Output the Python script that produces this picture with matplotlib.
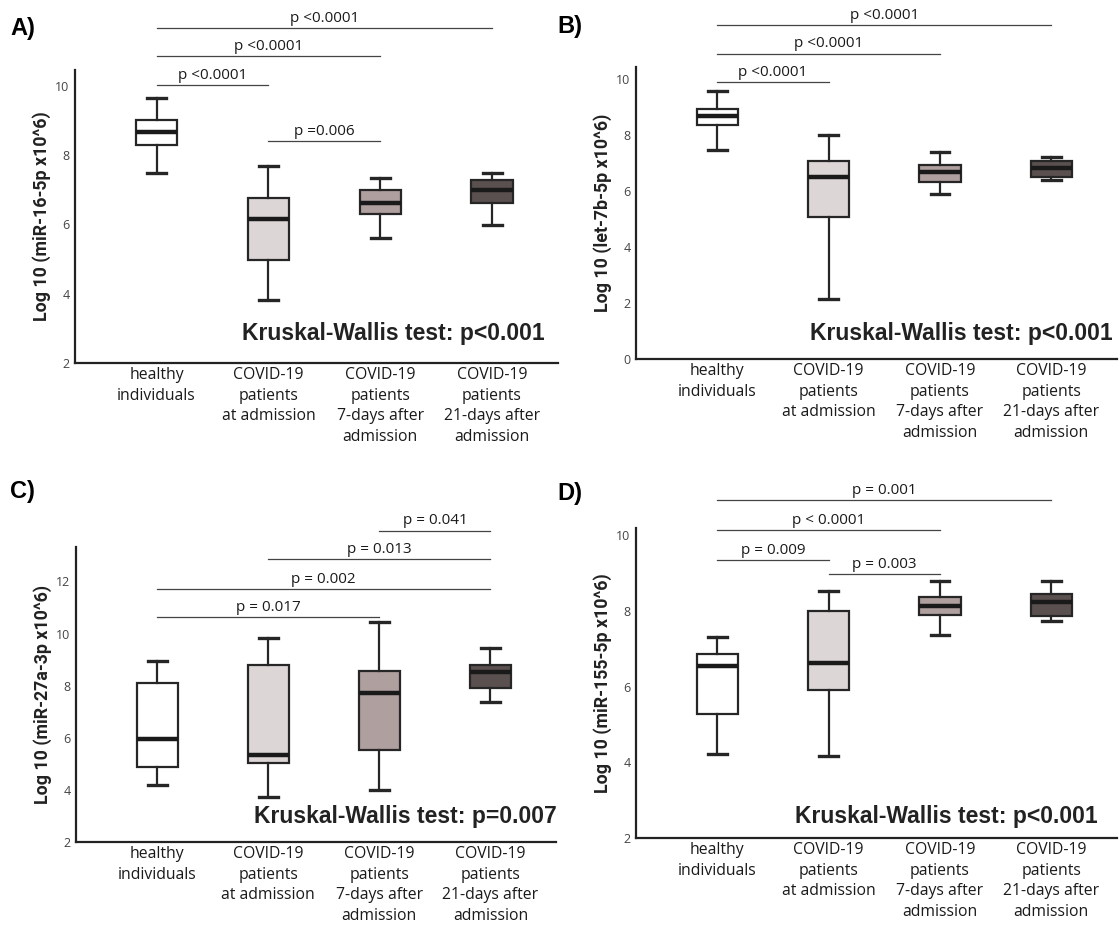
import matplotlib.pyplot as plt

# group names shown under every panel
groups = ['healthy\nindividuals',
          'COVID-19\npatients\nat admission',
          'COVID-19\npatients\n7-days after\nadmission',
          'COVID-19\npatients\n21-days after\nadmission']
fills = ['#ffffff', '#dcd6d7', '#b09f9f', '#5b5050']

# box statistics per panel: whisker low, Q1, median, Q3, whisker high
a_lo = [7.48, 3.83, 5.62, 5.98]
a_q1 = [8.29, 4.98, 6.29, 6.62]
a_med = [8.66, 6.17, 6.63, 7.00]
a_q3 = [9.02, 6.77, 7.00, 7.29]
a_hi = [9.66, 7.69, 7.35, 7.48]

b_lo = [7.45, 2.14, 5.90, 6.37]
b_q1 = [8.33, 5.08, 6.31, 6.50]
b_med = [8.66, 6.50, 6.67, 6.80]
b_q3 = [8.93, 7.07, 6.93, 7.05]
b_hi = [9.56, 7.97, 7.37, 7.19]

c_lo = [4.19, 3.73, 3.99, 7.36]
c_q1 = [4.87, 5.03, 5.53, 7.90]
c_med = [5.97, 5.32, 7.71, 8.51]
c_q3 = [8.09, 8.78, 8.58, 8.78]
c_hi = [8.94, 9.83, 10.45, 9.44]

d_lo = [4.22, 4.16, 7.35, 7.74]
d_q1 = [5.27, 5.91, 7.89, 7.86]
d_med = [6.55, 6.62, 8.14, 8.23]
d_q3 = [6.87, 8.00, 8.37, 8.44]
d_hi = [7.31, 8.52, 8.80, 8.80]

# pairwise comparisons: (group i, group j, bracket height, label)
a_sig = [(0, 3, 11.66, 'p <0.0001'), (0, 2, 10.85, 'p <0.0001'),
         (0, 1, 10.02, 'p <0.0001'), (1, 2, 8.41, 'p =0.006')]
b_sig = [(0, 3, 11.90, 'p <0.0001'), (0, 2, 10.89, 'p <0.0001'),
         (0, 1, 9.87, 'p <0.0001')]
c_sig = [(2, 3, 13.95, 'p = 0.041'), (1, 3, 12.87, 'p = 0.013'),
         (0, 3, 11.72, 'p = 0.002'), (0, 2, 10.64, 'p = 0.017')]
d_sig = [(0, 3, 10.94, 'p = 0.001'), (0, 2, 10.13, 'p < 0.0001'),
         (0, 1, 9.34, 'p = 0.009'), (1, 2, 8.98, 'p = 0.003')]

W, H = 1119, 925
fig = plt.figure(figsize=(W / 100, H / 100), dpi=100)

panels = [
    # letter, ylabel, stats, sigs, kruskal text, axes px (l, r, top, bottom), ylim, ticks, letter px, kw px
    ('A)', 'Log 10 (miR-16-5p x10^6)', (a_lo, a_q1, a_med, a_q3, a_hi), a_sig,
     'Kruskal-Wallis test: p<0.001', (75, 558, 70, 363), (2, 10.46), [2, 4, 6, 8, 10],
     (10, 35), (242, 340)),
    ('B)', 'Log 10 (let-7b-5p x10^6)', (b_lo, b_q1, b_med, b_q3, b_hi), b_sig,
     'Kruskal-Wallis test: p<0.001', (636, 1117, 67, 359), (0, 10.41), [0, 2, 4, 6, 8, 10],
     (557, 33), (810, 340)),
    ('C)', 'Log 10 (miR-27a-3p x10^6)', (c_lo, c_q1, c_med, c_q3, c_hi), c_sig,
     'Kruskal-Wallis test: p=0.007', (76, 556, 547, 842), (2, 13.32), [2, 4, 6, 8, 10, 12],
     (10, 498), (254, 823)),
    ('D)', 'Log 10 (miR-155-5p x10^6)', (d_lo, d_q1, d_med, d_q3, d_hi), d_sig,
     'Kruskal-Wallis test: p<0.001', (636, 1117, 528, 838), (2, 10.19), [2, 4, 6, 8, 10],
     (557, 500), (795, 823)),
]

for letter, ylab, st, sigs, kw, rect, ylim, ticks, lpos, kpos in panels:
    l, r, t, b = rect
    ax = fig.add_axes([l / W, 1 - b / H, (r - l) / W, (b - t) / H])
    lo, q1, med, q3, hi = st
    stats = [dict(whislo=lo[i], q1=q1[i], med=med[i], q3=q3[i], whishi=hi[i], fliers=[])
             for i in range(len(groups))]
    bp = ax.bxp(stats, positions=range(len(groups)), widths=0.37, patch_artist=True,
                showfliers=False,
                boxprops=dict(linewidth=1.6, edgecolor='#262626'),
                medianprops=dict(linewidth=3.2, color='#1a1a1a'),
                whiskerprops=dict(linewidth=1.6, color='#262626'),
                capprops=dict(linewidth=2.4, color='#262626'),
                capwidths=0.17)
    for patch, c in zip(bp['boxes'], fills):
        patch.set_facecolor(c)

    # x range so the groups sit where they do in the original
    ax.set_xlim(-0.73, 3.59)
    ax.set_ylim(*ylim)
    ax.set_yticks(ticks)
    ax.set_xticks(range(len(groups)))
    ax.set_xticklabels(groups, fontfamily='Open Sans', fontsize=11.3, linespacing=1.38)
    ax.tick_params(axis='y', length=0, pad=4, labelsize=9, labelcolor='#444444')
    ax.tick_params(axis='x', length=0, pad=3, labelcolor='#1a1a1a')
    for lab in ax.get_yticklabels():
        lab.set_fontfamily('Open Sans')
    for s in ['top', 'right']:
        ax.spines[s].set_visible(False)
    for s in ['left', 'bottom']:
        ax.spines[s].set_linewidth(1.6)
        ax.spines[s].set_color('#222222')
    ax.set_ylabel(ylab, fontfamily='Roboto', fontweight='bold', fontsize=12.8,
                  color='#222222', labelpad=3)

    for i, j, y, txt in sigs:
        ax.plot([i, j], [y, y], color='#444444', lw=0.9, clip_on=False)
        ax.annotate(txt, xy=((i + j) / 2, y), xytext=(0, 1.5), textcoords='offset points',
                    ha='center', va='bottom', fontfamily='Open Sans', fontsize=11,
                    color='#1a1a1a', annotation_clip=False)

    fig.text(lpos[0] / W, 1 - lpos[1] / H, letter, fontfamily='Liberation Sans',
             fontweight='bold', fontsize=17, va='baseline')
    fig.text(kpos[0] / W, 1 - kpos[1] / H, kw, fontfamily='Liberation Sans',
             fontweight='bold', fontsize=16.5, color='#222222', va='baseline')

plt.savefig('out.png', dpi=100, facecolor='white')
